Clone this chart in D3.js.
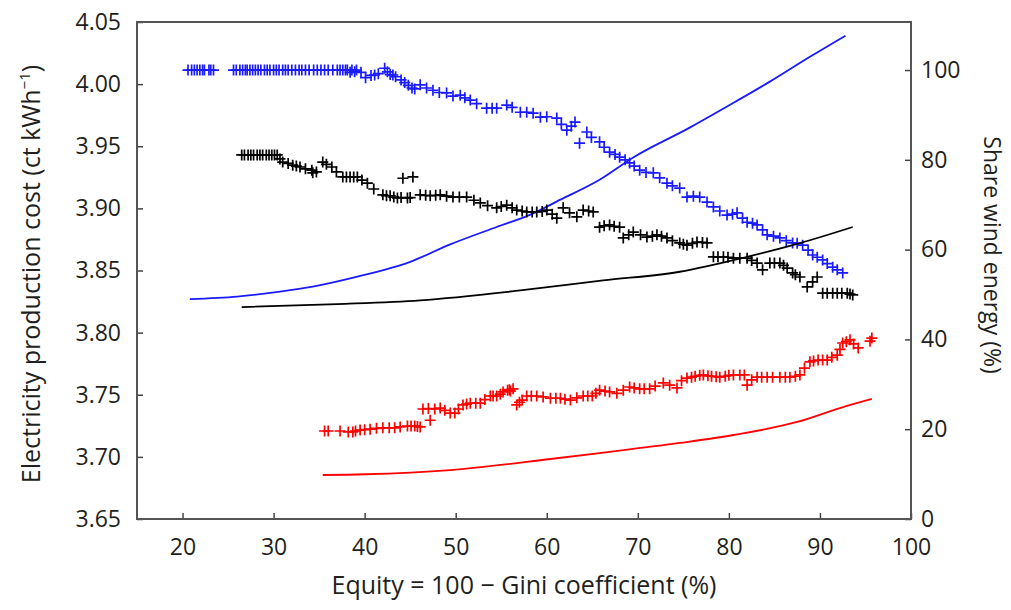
<!DOCTYPE html>
<html>
<head>
<meta charset="utf-8">
<script src="https://cdn.jsdelivr.net/npm/d3@7"></script>
<style>
  body { margin: 0; background: #fff; }
  text { font-family: "Open Sans", sans-serif; fill: #231f20; }
</style>
</head>
<body>
<svg id="chart" width="1011" height="610"></svg>
<script>
// cost curves (left axis), [equity, ct/kWh]
var blueCost = [[20.8,3.827],[26.0,3.829],[30.7,3.833],[34.3,3.837],[39.2,3.845],[45.0,3.857],[49.4,3.871],
  [54.5,3.885],[58.2,3.895],[61.5,3.907],[65.8,3.923],[69.5,3.941],[75.7,3.965],[79.8,3.982],[84.5,4.002],[88.9,4.022],[92.8,4.039]];
var blackCost = [[26.5,3.8206],[37.0,3.823],[46.1,3.826],[57.1,3.834],[66.2,3.842],[74.6,3.849],[82.0,3.861],[87.8,3.872],[93.6,3.885]];
var redCost = [[35.4,3.6854],[40.0,3.686],[49.4,3.6894],[60.4,3.6983],[65.8,3.7031],[74.6,3.7112],[80.5,3.7176],[87.5,3.7281],[92.2,3.7393],[95.7,3.7466]];

// wind share (right axis), [equity, %]
var blueWind = [[20.6,100],[21.0,100],[21.3,100],[21.6,100],[21.9,100],[22.2,100],[22.4,100],[22.9,100],[23.1,100],[23.4,100],
  [25.6,100],[25.9,100],[26.3,100],[26.6,100],[26.9,100],[27.1,100],[27.4,100],[27.7,100],[28.0,100],[28.3,100],
  [28.6,100],[29.0,100],[29.3,100],[29.6,100],[30.0,100],[30.3,100],[30.6,100],[31.0,100],[31.3,100],[31.6,100],
  [32.0,100],[32.4,100],[32.8,100],[33.1,100],[33.5,100],[33.9,100],[34.4,100],[34.8,100],[35.2,100],[35.6,100],
  [36.0,100],[36.5,100],[37.0,100],[37.3,100],[37.6,100],[37.9,100],[38.1,100],[38.4,99.5],[38.6,100],[38.9,99.6],
  [39.1,100],[39.6,99.5],[40.1,98.3],[40.7,98.8],[41.1,98.9],[41.5,99.2],[42.2,100.4],[42.5,99.6],[42.8,99],[43.1,98.9],
  [43.4,98.5],[44.0,97.8],[44.4,97.2],[44.8,96.6],[45.2,96.0],[45.5,95.8],[46.1,96.7],[46.8,96.0],[47.5,95.5],
  [48.2,95.0],[49.0,94.9],[49.7,94.2],[50.5,94.4],[51.0,93.8],[51.6,93.3],[52.3,92.5],[53.4,91.5],[54.0,91.5],
  [54.5,91.5],[55.6,92.2],[56.2,91.7],[57.1,90.6],[57.8,90.6],[58.5,90.4],[59.3,89.5],[60.0,89.6],[61.1,89.3],
  [61.6,87.9],[62.2,86.6],[62.7,87.5],[63.1,88.4],[63.6,83.7],[64.4,86.2],[64.9,85.0],[65.8,84.0],[66.3,82.8],
  [66.9,81.7],[67.5,81.2],[68.0,80.6],[68.6,80.0],[69.1,79.3],[69.6,78.6],[70.2,77.7],[70.9,77.2],[71.7,77.1],
  [72.4,76.0],[73.2,74.8],[73.8,74.2],[74.6,73.7],[75.4,71.7],[76.1,71.9],[76.8,71.7],[77.6,70.6],[78.3,69.5],
  [79.0,68.6],[79.8,67.7],[80.4,67.9],[80.9,68.2],[81.5,67.0],[82.0,66.1],[82.6,65.9],[83.1,65.5],[83.7,64.4],
  [84.2,63.3],[84.9,63.0],[85.6,62.6],[86.3,62.0],[87.0,61.5],[87.5,61.4],[88.1,61.0],[88.7,59.9],[89.2,58.8],
  [89.7,58.3],[90.3,57.7],[90.8,56.9],[91.4,56.1],[91.9,55.5],[92.5,54.8]];
var blackWind = [[26.5,81.1],[26.8,81.1],[27.2,81.1],[27.5,81.1],[27.8,81.1],[28.2,81.1],[28.5,81.1],[28.8,81.1],
  [29.2,81.1],[29.5,81.1],[29.8,81.1],[30.1,81.1],[30.4,81.1],[30.7,80.2],[31.0,79.5],[31.6,79.2],[32.1,78.8],
  [32.5,78.6],[32.9,78.4],[33.5,78.0],[34.2,77.7],[34.3,77.1],[34.7,77.3],[35.4,79.5],[35.8,79.0],[36.4,78.4],
  [36.9,77.3],[37.6,76.2],[38.0,76.2],[38.4,76.2],[38.8,76.2],[39.2,76.2],[39.7,75.5],[40.3,74.8],[41.0,73.5],
  [42.0,72.2],[42.4,72.0],[42.8,72.0],[43.2,71.7],[43.6,71.5],[44.0,71.6],[44.7,71.5],[45.0,71.6],[44.2,75.9],
  [45.3,76.2],[46.1,72.2],[46.7,72.1],[47.2,72.0],[47.8,72.1],[48.3,72.2],[49.0,71.9],[49.7,71.7],[50.4,71.7],
  [51.2,71.7],[52.0,71.0],[52.7,70.4],[53.5,69.8],[54.5,69.3],[55.0,69.6],[55.6,69.9],[56.2,69.3],[56.7,68.8],
  [57.3,68.6],[57.8,68.4],[58.4,68.4],[58.9,68.4],[59.5,68.5],[60.0,68.8],[60.6,67.9],[61.1,67.0],[61.8,69.3],
  [62.5,68.2],[63.3,67.3],[64.0,68.8],[64.6,68.6],[65.1,68.4],[65.8,65.0],[66.3,65.3],[66.9,65.5],[67.4,65.2],
  [68.0,65.0],[68.4,62.6],[69.0,63.3],[69.5,63.9],[70.3,63.3],[71.0,62.8],[71.6,63.0],[72.1,63.3],[72.6,63.0],
  [73.2,62.6],[73.8,62.0],[74.6,61.5],[75.0,61.2],[75.4,61.0],[76.0,61.4],[76.5,61.7],[77.1,61.6],[77.6,61.5],
  [78.3,58.4],[78.8,58.4],[79.4,58.4],[79.9,58.3],[80.5,58.1],[81.2,58.1],[82.0,58.1],[82.5,57.6],[83.1,57.0],
  [83.7,55.5],[84.5,57.0],[85.0,57.0],[85.6,57.0],[86.0,56.5],[86.4,55.9],[87.0,54.8],[87.3,54.4],[87.8,53.9],
  [88.6,51.7],[89.2,52.8],[89.7,53.9],[90.3,50.3],[90.8,50.3],[91.4,50.3],[91.9,50.3],[92.4,50.3],[93.0,50.3],
  [93.3,50.1],[93.6,49.9]];
var redWind = [[35.6,19.6],[36.0,19.6],[37.3,19.6],[38.2,19.4],[38.7,19.4],[39.0,19.6],[39.5,19.8],[40.0,19.9],
  [40.6,20.0],[41.3,20.2],[42.0,20.3],[42.7,20.3],[43.3,20.3],[43.9,20.5],[44.7,20.7],[45.1,20.7],[45.5,20.7],
  [45.8,20.6],[46.1,20.5],[46.4,24.5],[47.0,24.6],[47.2,22.0],[47.7,24.5],[48.3,24.7],[48.8,24.2],[49.4,23.6],
  [49.9,23.6],[50.3,24.5],[50.8,25.4],[51.2,25.6],[51.6,25.8],[52.2,25.8],[52.7,25.8],[53.2,26.6],[53.8,27.4],
  [54.1,27.4],[54.5,27.4],[54.9,27.8],[55.2,28.3],[55.7,28.7],[55.9,28.8],[56.0,28.5],[56.3,29.0],[56.7,25.4],
  [57.0,26.0],[57.3,26.5],[57.8,27.4],[58.3,27.4],[58.9,27.4],[59.6,27.2],[60.4,26.9],[61.0,26.9],[61.5,26.9],
  [62.0,26.7],[62.6,26.5],[63.3,27.0],[64.0,27.4],[64.5,27.4],[65.0,27.4],[65.4,28.0],[65.8,28.7],[66.4,28.5],
  [66.9,28.3],[67.7,28.0],[68.4,28.7],[69.1,29.4],[69.6,29.2],[70.2,29.0],[70.7,29.0],[71.3,29.0],[71.9,29.6],
  [72.8,30.3],[73.5,29.8],[74.3,29.2],[74.8,30.8],[75.4,31.4],[75.9,31.6],[76.3,31.8],[76.8,32.0],[77.2,32.1],
  [77.7,31.9],[78.1,31.8],[78.6,31.7],[79.0,31.6],[79.6,31.8],[80.0,32.0],[80.5,32.1],[81.2,32.1],[81.7,32.1],
  [82.0,29.8],[82.5,31.0],[83.1,31.6],[83.6,31.6],[84.2,31.6],[84.8,31.6],[85.6,31.6],[86.2,31.6],[86.7,31.6],
  [87.3,31.8],[87.8,32.1],[88.3,33.6],[88.9,35.0],[89.3,35.2],[89.8,35.4],[90.3,35.4],[90.8,35.4],[91.3,36.0],
  [91.9,36.5],[92.2,37.8],[92.5,39.2],[92.9,39.5],[93.3,39.9],[93.7,39.0],[94.2,38.1],[95.5,39.6],[95.7,40.3]];

var xTicks = [20, 30, 40, 50, 60, 70, 80, 90, 100];
var costTicks = [3.65, 3.70, 3.75, 3.80, 3.85, 3.90, 3.95, 4.00, 4.05];
var windTicks = [0, 20, 40, 60, 80, 100];

var plotLeft = 137, plotRight = 911, plotTop = 22, plotBottom = 519;
var svg = d3.select("#chart");

var x = d3.scaleLinear().domain([15, 100]).range([plotLeft, plotRight]);
var y = d3.scaleLinear().domain([3.65, 4.05]).range([plotBottom, plotTop]);
var y2 = d3.scaleLinear().domain([0, 110.7]).range([plotBottom, plotTop]);

function styleAxis(g) {
  g.select(".domain").remove();
  g.selectAll(".tick line").attr("stroke", "#444").attr("stroke-width", 1.5);
  g.selectAll(".tick text").style("font-size", "23px").attr("fill", "#231f20");
}

svg.append("g").attr("transform", "translate(0," + plotBottom + ")")
  .call(d3.axisBottom(x).tickValues(xTicks).tickSize(-6).tickPadding(20))
  .call(styleAxis);
svg.append("g").attr("transform", "translate(" + plotLeft + ",0)")
  .call(d3.axisLeft(y).tickValues(costTicks).tickSize(-6).tickPadding(16).tickFormat(d3.format(".2f")))
  .call(styleAxis);
svg.append("g").attr("transform", "translate(" + plotRight + ",0)")
  .call(d3.axisRight(y2).tickValues(windTicks).tickSize(-6).tickPadding(10))
  .call(styleAxis);

svg.append("rect")
  .attr("x", plotLeft).attr("y", plotTop)
  .attr("width", plotRight - plotLeft).attr("height", plotBottom - plotTop)
  .attr("fill", "none").attr("stroke", "#555").attr("stroke-width", 2);

var line = d3.line().x(function(d) { return x(d[0]); }).y(function(d) { return y(d[1]); }).curve(d3.curveMonotoneX);

var series = [
  { cost: blueCost, wind: blueWind, color: "#1a1aff" },
  { cost: blackCost, wind: blackWind, color: "#000" },
  { cost: redCost, wind: redWind, color: "#ff0000" }
];

series.forEach(function(s) {
  svg.append("path").datum(s.cost)
    .attr("d", line).attr("fill", "none")
    .attr("stroke", s.color).attr("stroke-width", 1.8);

  var r = 5.5;
  svg.append("g").selectAll("path")
    .data(s.wind)
    .enter().append("path")
      .attr("d", function(d) {
        var cx = x(d[0]), cy = y2(d[1]);
        return "M" + (cx - r) + "," + cy + "H" + (cx + r) + "M" + cx + "," + (cy - r) + "V" + (cy + r);
      })
      .attr("stroke", s.color).attr("stroke-width", 1.7);
});

svg.append("text")
  .attr("x", (plotLeft + plotRight) / 2).attr("y", 594)
  .attr("text-anchor", "middle").style("font-size", "25px")
  .text("Equity = 100 \u2212 Gini coefficient (%)");

var yl = svg.append("text")
  .attr("transform", "translate(40,274) rotate(-90)")
  .attr("text-anchor", "middle").style("font-size", "25px");
yl.append("tspan").text("Electricity production cost (ct kWh");
yl.append("tspan").attr("dy", -10).style("font-size", "15px").text("\u22121");
yl.append("tspan").attr("dy", 10).text(")");

svg.append("text")
  .attr("transform", "translate(984,255) rotate(90)")
  .attr("text-anchor", "middle").style("font-size", "23px")
  .text("Share wind energy (%)");
</script>
</body>
</html>
